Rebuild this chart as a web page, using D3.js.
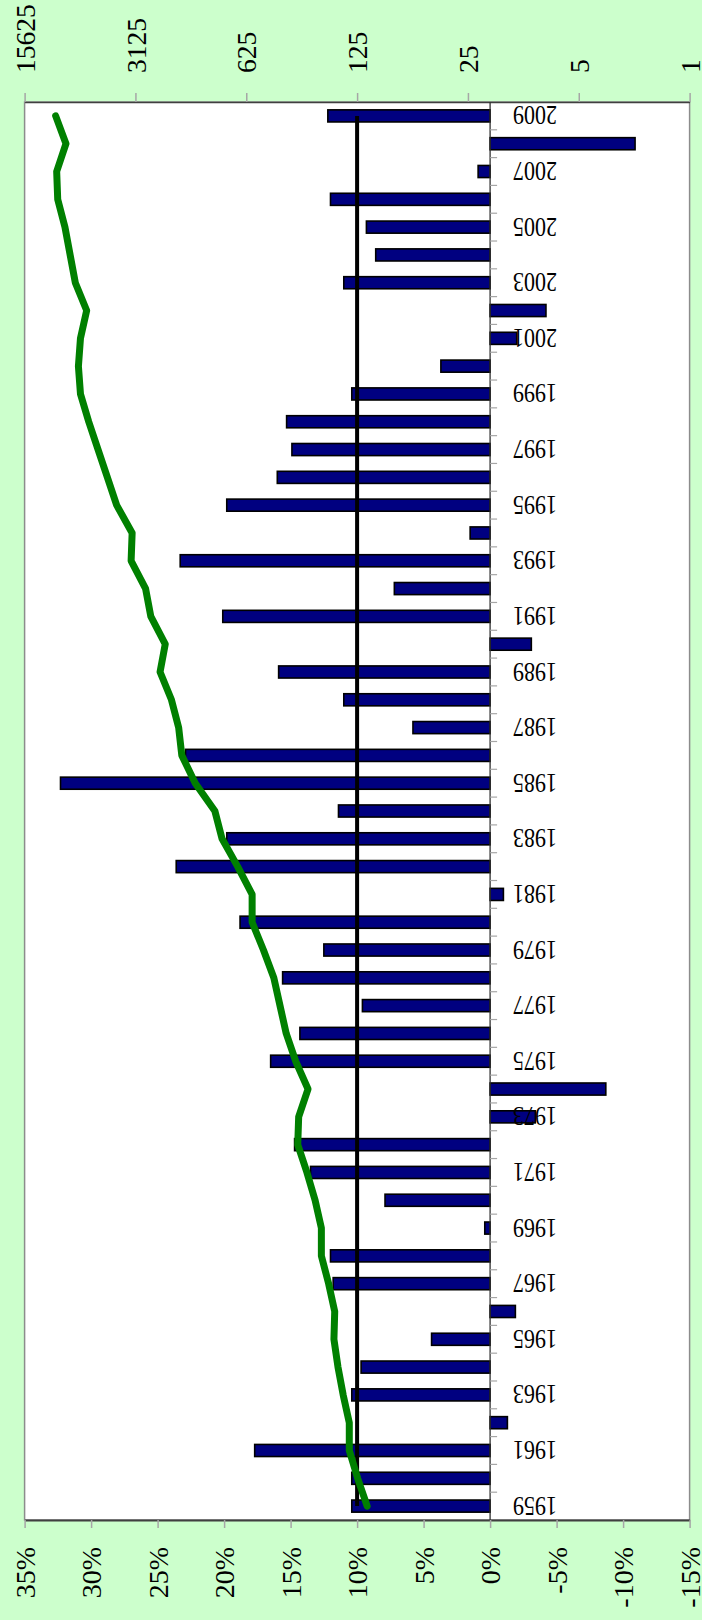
<!DOCTYPE html>
<html>
<head>
<meta charset="utf-8">
<script src="https://cdn.jsdelivr.net/npm/d3@7"></script>
<style>
  html, body { margin: 0; padding: 0; background: #ccffcc; }
  svg { display: block; }
  text { font-family: "Liberation Serif", "Times New Roman", serif; fill: #000; }
</style>
</head>
<body>
<svg id="chart" width="702" height="1620"></svg>
<script>
// Annual returns (%) and growth of the portfolio, 1959–2009
const years = d3.range(1959, 2010);
const annualReturn = [
  10.4, 10.4, 17.7, -1.3, 10.4, 9.7, 4.4, -1.9, 11.8, 12.0,
  0.4, 7.9, 13.5, 14.7, -3.4, -8.7, 16.5, 14.3, 9.6, 15.6,
  12.5, 18.8, -1.0, 23.6, 19.8, 11.4, 32.3, 22.9, 5.8, 11.0,
  15.9, -3.1, 20.1, 7.2, 23.3, 1.5, 19.8, 16.0, 14.9, 15.3,
  10.4, 3.7, -2.0, -4.2, 11.0, 8.6, 9.3, 12.0, 0.9, -10.9,
  12.2
];
const growthValue = [
  108, 124, 140, 140, 153, 165, 175, 173, 189, 210,
  210, 230, 259, 296, 292, 255, 305, 350, 383, 419,
  487, 574, 574, 708, 888, 986, 1311, 1594, 1668, 1852,
  2185, 2027, 2500, 2697, 3327, 3278, 4105, 4697, 5377, 6156,
  6942, 7153, 6942, 6344, 7483, 8067, 8696, 9660, 9806, 8567,
  9955
];
const averageReturn = 10;
const pctTicks = [35, 30, 25, 20, 15, 10, 5, 0, -5, -10, -15];
const growthTicks = [15625, 3125, 625, 125, 25, 5, 1];

const svg = d3.select("#chart");
const plot = { left: 24.6, right: 689.6, top: 102, bottom: 1520 };

const x = d3.scaleLinear().domain([35, -15]).range([plot.left, plot.right]);
const xGrowth = d3.scaleLog().base(5).domain([15625, 1]).range([plot.left, plot.right]);
const y = d3.scaleBand().domain(years).range([plot.bottom, plot.top]).paddingInner(0).paddingOuter(0);
const bw = y.bandwidth();
const barH = bw / 2.3;
const yc = d => y(d) + bw / 2;

// plot area
svg.append("rect")
  .attr("x", plot.left).attr("y", plot.top)
  .attr("width", plot.right - plot.left).attr("height", plot.bottom - plot.top)
  .attr("fill", "#fff").attr("stroke", "#8c8c8c").attr("stroke-width", 1.5);

// return axis (bottom)
const axB = svg.append("g").attr("transform", `translate(0,${plot.bottom})`)
  .call(d3.axisBottom(x).tickValues(pctTicks).tickSize(8).tickSizeOuter(0).tickFormat(d => d + "%"));
axB.select(".domain").attr("stroke", "#404040").attr("stroke-width", 2);
axB.selectAll(".tick line").attr("stroke", "#a6a6a6").attr("stroke-width", 1.5);
axB.selectAll(".tick text")
  .attr("font-size", 28).attr("font-family", "Liberation Serif")
  .attr("text-anchor", "end").attr("y", 0).attr("dy", "0.35em")
  .attr("transform", "translate(0,27) rotate(-90)");

// growth axis (top, log base 5)
const axT = svg.append("g").attr("transform", `translate(0,${plot.top})`)
  .call(d3.axisTop(xGrowth).tickValues(growthTicks).tickSize(9).tickSizeOuter(0).tickFormat(d3.format("d")));
axT.select(".domain").attr("stroke", "#404040").attr("stroke-width", 1.5);
axT.selectAll(".tick line").attr("stroke", "#a6a6a6").attr("stroke-width", 1.5);
axT.selectAll(".tick text")
  .attr("font-size", 27.5).attr("font-family", "Liberation Serif")
  .attr("text-anchor", "start").attr("y", 0).attr("dy", "0.35em")
  .attr("transform", "translate(0,-29) rotate(-90)");

// return bars
svg.append("g").selectAll("rect").data(years).join("rect")
  .attr("x", (d, i) => Math.min(x(annualReturn[i]), x(0)))
  .attr("y", d => yc(d) - barH / 2)
  .attr("width", (d, i) => Math.abs(x(annualReturn[i]) - x(0)))
  .attr("height", barH)
  .attr("fill", "#000080").attr("stroke", "#000").attr("stroke-width", 1.6);

// category axis along zero
svg.append("line")
  .attr("x1", x(0)).attr("x2", x(0)).attr("y1", plot.top).attr("y2", plot.bottom)
  .attr("stroke", "#303030").attr("stroke-width", 1.3);
svg.append("g").selectAll("line").data(years.slice(1)).join("line")
  .attr("x1", x(0)).attr("x2", x(0) + 7)
  .attr("y1", d => y(d) + bw).attr("y2", d => y(d) + bw)
  .attr("stroke", "#a6a6a6").attr("stroke-width", 1.2);

// year labels, every second year
svg.append("g").selectAll("text").data(years.filter((d, i) => i % 2 === 0)).join("text")
  .attr("transform", d => `translate(${x(0) + 67},${yc(d)}) rotate(180) scale(0.82,1)`)
  .attr("text-anchor", "start").attr("dy", "0.35em")
  .attr("font-size", 27)
  .text(d => d);

// average return line
svg.append("line")
  .attr("x1", x(averageReturn)).attr("x2", x(averageReturn))
  .attr("y1", yc(years[0])).attr("y2", yc(years[years.length - 1]))
  .attr("stroke", "#000").attr("stroke-width", 4);

// growth line
svg.append("path")
  .datum(years)
  .attr("d", d3.line().x((d, i) => xGrowth(growthValue[i])).y(d => yc(d)))
  .attr("fill", "none").attr("stroke", "#008000").attr("stroke-width", 7)
  .attr("stroke-linecap", "round").attr("stroke-linejoin", "round");
</script>
</body>
</html>
